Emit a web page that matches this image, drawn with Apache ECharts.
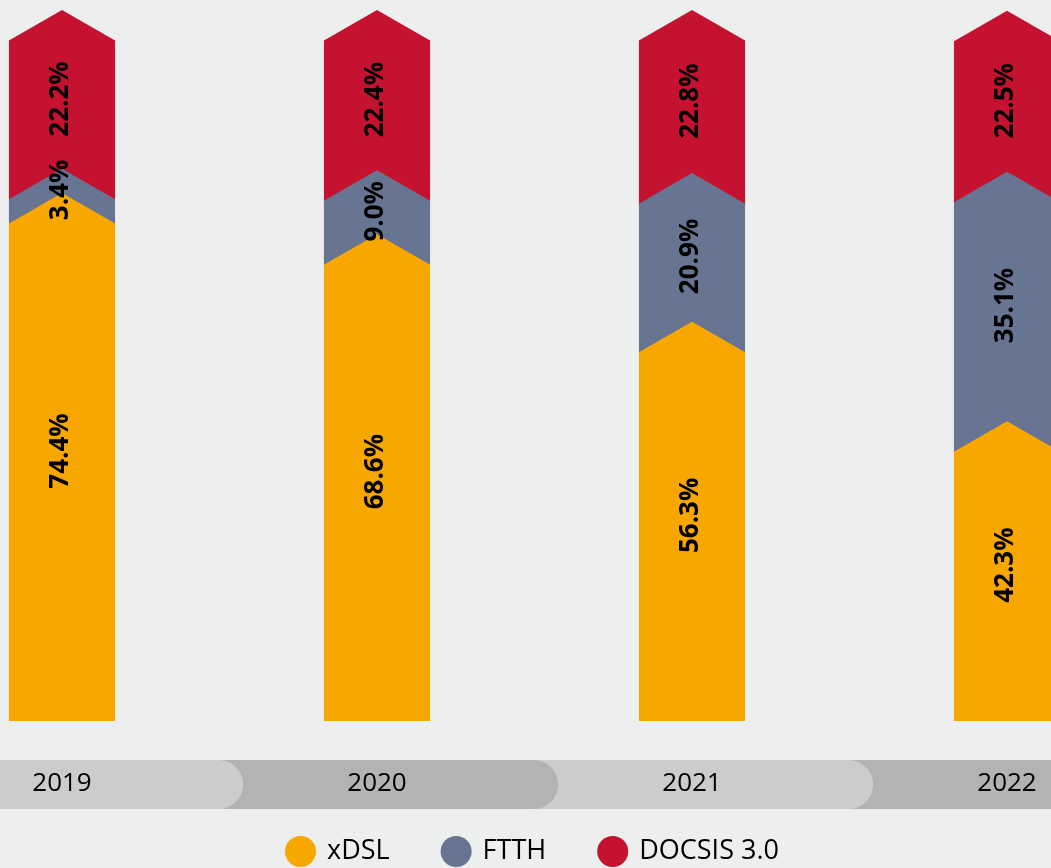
<!DOCTYPE html>
<html>
<head>
<meta charset="utf-8">
<script src="https://cdn.jsdelivr.net/npm/echarts@6/dist/echarts.min.js"></script>
<style>
  html, body { margin: 0; padding: 0; background: #edefee; }
  #chart { width: 1051px; height: 868px; }
</style>
</head>
<body>
<div id="chart"></div>
<script>
const years = ['2019', '2020', '2021', '2022']
const xdsl = [74.4, 68.6, 56.3, 42.3]
const ftth = [3.4, 9.0, 20.9, 35.1]
const docsis = [22.2, 22.4, 22.8, 22.5]

const FONT = "'Open Sans', sans-serif"
const colors = { xdsl: '#f7a700', ftth: '#687592', docsis: '#c51230' }

// stack values: each item is [category index, lower bound, upper bound, value]
const stackOf = (values, below) => values.map((v, i) => {
  const lo = below.reduce((s, arr) => s + arr[i], 0)
  return [i, lo, lo + v, v]
})

// chevron shaped segment: peak on top, notch at the bottom
const segmentItem = (params, api) => {
  const idx = api.value(0)
  const lo = api.value(1)
  const hi = api.value(2)
  const val = api.value(3)
  const half = api.size([1, 0])[0] * 0.337 / 2
  const arrow = half * 0.575
  const top = api.coord([idx, hi])
  const bottom = api.coord([idx, lo])
  const cx = top[0]
  const pts = [[cx - half, top[1] + arrow], [cx, top[1]], [cx + half, top[1] + arrow]]
  if (lo > 0) {
    pts.push([cx + half, bottom[1] + arrow + 1], [cx, bottom[1] + 1], [cx - half, bottom[1] + arrow + 1])
  } else {
    pts.push([cx + half, bottom[1]], [cx - half, bottom[1]])
  }
  const labelY = (top[1] + bottom[1]) / 2 + (lo > 0 ? 10 : -5.5)
  return {
    type: 'group',
    children: [
      { type: 'polygon', shape: { points: pts }, style: { fill: api.visual('color') } },
      {
        type: 'text', z2: 50, x: cx - 1, y: labelY, rotation: Math.PI / 2,
        style: {
          text: val.toFixed(1) + '%', fill: '#000', font: 'bold 26px ' + FONT,
          align: 'center', verticalAlign: 'middle'
        }
      }
    ]
  }
}

// grey tabs behind the year labels
const tabItem = (params, api) => {
  const idx = api.value(0)
  const band = api.size([1, 0])[0]
  const p = api.coord([idx, 0])
  const left = p[0] - band * 0.5 - 40
  const right = p[0] + band * 0.575
  return {
    type: 'rect', z2: 10 - idx,
    shape: { x: left, y: p[1] + 39, width: right - left, height: 49, r: [0, 24.5, 24.5, 0] },
    style: { fill: idx % 2 ? '#b3b3b3' : '#cccccc' }
  }
}

const chart = echarts.init(document.getElementById('chart'))
chart.setOption({
  backgroundColor: '#edefee',
  animation: false,
  grid: { left: 62, right: 44, top: 10, bottom: 147 },
  xAxis: {
    type: 'category', data: years, boundaryGap: false, z: 10,
    axisLine: { show: false }, axisTick: { show: false },
    axisLabel: { margin: 63, verticalAlign: 'middle', fontSize: 26, color: '#000', fontFamily: FONT }
  },
  yAxis: { type: 'value', min: 0, max: 100, show: false },
  legend: {
    data: ['xDSL', 'FTTH', 'DOCSIS 3.0'],
    left: 285, top: 836, padding: 0, icon: 'circle', itemWidth: 31, itemHeight: 31, itemGap: 51,
    textStyle: { fontSize: 27, color: '#000', fontFamily: FONT, padding: [0, 0, 0, 6] }
  },
  series: [
    {
      name: 'tabs', type: 'custom', renderItem: tabItem, z: 1, silent: true,
      data: years.map((y, i) => [i])
    },
    {
      name: 'xDSL', type: 'custom', renderItem: segmentItem,
      itemStyle: { color: colors.xdsl }, encode: { x: 0, y: 2 },
      data: stackOf(xdsl, [])
    },
    {
      name: 'FTTH', type: 'custom', renderItem: segmentItem,
      itemStyle: { color: colors.ftth }, encode: { x: 0, y: 2 },
      data: stackOf(ftth, [xdsl])
    },
    {
      name: 'DOCSIS 3.0', type: 'custom', renderItem: segmentItem,
      itemStyle: { color: colors.docsis }, encode: { x: 0, y: 2 },
      data: stackOf(docsis, [xdsl, ftth])
    }
  ]
})
</script>
</body>
</html>
